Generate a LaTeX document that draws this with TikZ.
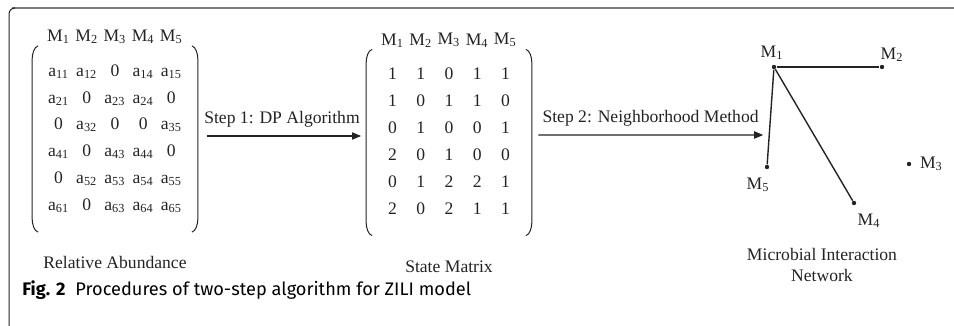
\documentclass[tikz,border=0pt]{standalone}
\usepackage{fontspec}
\setmainfont{Liberation Serif}
\newfontfamily\capfont{Fira Sans}
\usepackage{tikz}
\usetikzlibrary{arrows.meta, positioning, calc, matrix}
\usepackage{xcolor}
\definecolor{framegray}{RGB}{125,125,125}
\definecolor{inkgray}{RGB}{35,35,35}

\newcommand{\ab}[1]{a\textsubscript{#1}}
\newcommand{\Mi}[1]{M\textsubscript{#1}}
% round brackets drawn at the matrix node's borders
\newcommand{\parens}[1]{%
  \draw[bracket] ($(#1.north west)+(6,0)$) .. controls +(-4,1) and +(0,-6) .. ($(#1.north west)+(0,14)$)
    -- ($(#1.south west)+(0,-14)$) .. controls +(0,6) and +(-4,-1) .. ($(#1.south west)+(6,0)$);
  \draw[bracket] ($(#1.north east)+(-6,0)$) .. controls +(4,1) and +(0,-6) .. ($(#1.north east)+(0,14)$)
    -- ($(#1.south east)+(0,-14)$) .. controls +(0,6) and +(4,-1) .. ($(#1.south east)+(-6,0)$);
}

\tikzset{
  txt/.style={font=\fontsize{8.8}{10.5}\selectfont, text=inkgray, inner sep=0pt},
  mat/.style={matrix of nodes, inner xsep=6pt, inner ysep=6pt,
    nodes={txt, minimum width=14.1pt, minimum height=13.45pt, text height=6pt, text depth=1.6pt},
    column sep=0pt, row sep=0pt},
  bracket/.style={inkgray, line width=0.5pt},
  flow/.style={inkgray, line width=0.6pt, -{Triangle[length=4.5pt, width=3.6pt]}},
  taxon/.style={circle, fill=inkgray, inner sep=0pt, minimum size=2.2pt},
  edge/.style={inkgray, line width=0.7pt},
}

\begin{document}
\begin{tikzpicture}[x=0.5pt, y=-0.5pt]
  \useasboundingbox (0,0) rectangle (954,326);
  % frame
  \draw[framegray, line width=1pt] (12,8) -- (954,8);
  \draw[inkgray, line width=0.5pt, rounded corners=3pt] (9,326) -- (9,8) -- (14,8);
  % relative abundance
  \matrix[mat] (abund) at (115,139) {
    \ab{11} & \ab{12} & 0 & \ab{14} & \ab{15} \\
    \ab{21} & 0 & \ab{23} & \ab{24} & 0 \\
    0 & \ab{32} & 0 & 0 & \ab{35} \\
    \ab{41} & 0 & \ab{43} & \ab{44} & 0 \\
    0 & \ab{52} & \ab{53} & \ab{54} & \ab{55} \\
    \ab{61} & 0 & \ab{63} & \ab{64} & \ab{65} \\
  };
  % state matrix
  \matrix[mat] (state) at (449,142.5) {
    1 & 1 & 0 & 1 & 1 \\
    1 & 0 & 1 & 1 & 0 \\
    0 & 1 & 0 & 0 & 1 \\
    2 & 0 & 1 & 0 & 0 \\
    0 & 1 & 2 & 2 & 1 \\
    2 & 0 & 2 & 1 & 1 \\
  };
  \parens{abund}
  \parens{state}
  \foreach \c in {1,...,5} {
    \node[txt] (abundM\c) at ($(abund-1-\c)+(0,-35)$) {\Mi{\c}};
    \node[txt] (stateM\c) at ($(state-1-\c)+(0,-35)$) {\Mi{\c}};
  }
  \node[txt, below=12pt of abund] (abundlbl) {Relative Abundance};
  \node[txt, below=12.5pt of state] (statelbl) {State Matrix};
  % network
  \node[taxon, label={[txt, label distance=2pt, xshift=-1pt]above:\Mi{1}}] (m1) at (774,67) {};
  \node[taxon, label={[txt, label distance=1.2pt, xshift=5pt]above:\Mi{2}}] (m2) at (882,67) {};
  \node[taxon, label={[txt, label distance=4pt]right:\Mi{3}}] (m3) at (909,164) {};
  \node[taxon, label={[txt, label distance=4pt, xshift=7.5pt]below:\Mi{4}}] (m4) at (854,203) {};
  \node[taxon, label={[txt, label distance=4pt, xshift=-4.5pt]below:\Mi{5}}] (m5) at (767,167) {};
  \draw[edge] (m1) -- (m2);
  \draw[edge] (m1) -- (m5);
  \draw[edge] (m1) -- (m4);
  \node[txt, align=center] (netlbl) at (822,264.5) {Microbial Interaction\\Network};
  % steps
  \draw[flow, shorten <=4.4pt, shorten >=2.5pt] ([yshift=1.5pt]abund.east) -- ([yshift=1.5pt]abund.east -| state.west)
    node[txt, midway, above=4pt] (step1) {Step 1: DP Algorithm};
  \draw[flow, shorten <=3.2pt, shorten >=3pt] ([yshift=3.75pt]state.east) -- ($(m1)!0.68!(m5)$)
    node[txt, midway, above=4pt] (step2) {Step 2: Neighborhood Method};
  % caption
  \node[anchor=west, inner sep=0pt, font=\capfont\fontsize{9.1}{11}\selectfont] (caption) at (22,290)
    {\textbf{Fig. 2}\hspace{0.55em}Procedures of two-step algorithm for ZILI model};
\end{tikzpicture}
\end{document}
